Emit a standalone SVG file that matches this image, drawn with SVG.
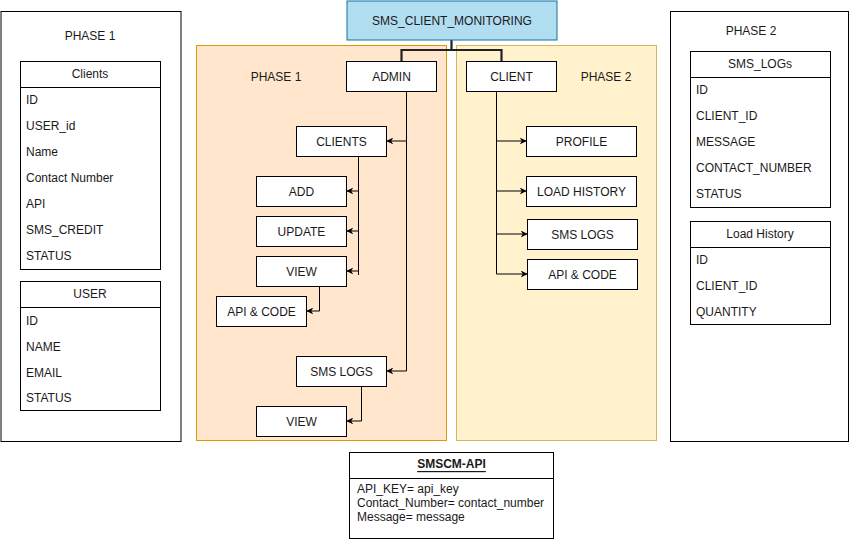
<svg xmlns="http://www.w3.org/2000/svg" width="851" height="542" viewBox="0 0 851 542">
<defs>
<marker id="arr" viewBox="0 0 10 10" refX="9" refY="5" markerWidth="7" markerHeight="7" markerUnits="userSpaceOnUse" orient="auto">
<path d="M0,0 L10,5 L0,10 L3,5 z" fill="#000"/>
</marker>
<style>
text{font-family:"Liberation Sans",Arial,sans-serif;font-size:12px;fill:#1a1a1a}
.c{text-anchor:middle;dominant-baseline:central}
.l{dominant-baseline:central}
.box{fill:#fff;stroke:#000;stroke-width:1}
.ln{fill:none;stroke:#000;stroke-width:1}
.ar{fill:none;stroke:#000;stroke-width:1;marker-end:url(#arr)}
</style>
</defs>
<rect width="851" height="542" fill="#fff"/>

<g id="phase1-db">
<rect class="box" x="1" y="11.5" width="180" height="430"/>
<text class="c" x="90" y="36">PHASE 1</text>
<g id="clients-table">
<rect class="box" x="20.5" y="61.5" width="140" height="208"/>
<line class="ln" x1="20.5" y1="87.5" x2="160.5" y2="87.5"/>
<text class="c" x="90" y="74">Clients</text>
<text class="l" x="26" y="100">ID</text>
<text class="l" x="26" y="126">USER_id</text>
<text class="l" x="26" y="152">Name</text>
<text class="l" x="26" y="178">Contact Number</text>
<text class="l" x="26" y="204">API</text>
<text class="l" x="26" y="230">SMS_CREDIT</text>
<text class="l" x="26" y="256">STATUS</text>
</g>
<g id="user-table">
<rect class="box" x="20.5" y="281.5" width="140" height="129"/>
<line class="ln" x1="20.5" y1="307.5" x2="160.5" y2="307.5"/>
<text class="c" x="90" y="294">USER</text>
<text class="l" x="26" y="321">ID</text>
<text class="l" x="26" y="347">NAME</text>
<text class="l" x="26" y="373">EMAIL</text>
<text class="l" x="26" y="398">STATUS</text>
</g>
</g>

<g id="phase2-db">
<rect class="box" x="670.5" y="11.5" width="178" height="430"/>
<text class="c" x="751" y="31">PHASE 2</text>
<g id="smslogs-table">
<rect class="box" x="690.5" y="51.5" width="140" height="156"/>
<line class="ln" x1="690.5" y1="77.5" x2="830.5" y2="77.5"/>
<text class="c" x="760" y="64">SMS_LOGs</text>
<text class="l" x="696" y="90">ID</text>
<text class="l" x="696" y="116">CLIENT_ID</text>
<text class="l" x="696" y="142">MESSAGE</text>
<text class="l" x="696" y="168">CONTACT_NUMBER</text>
<text class="l" x="696" y="194">STATUS</text>
</g>
<g id="loadhistory-table">
<rect class="box" x="690.5" y="221.5" width="140" height="103"/>
<line class="ln" x1="690.5" y1="247.5" x2="830.5" y2="247.5"/>
<text class="c" x="760" y="234">Load History</text>
<text class="l" x="696" y="260">ID</text>
<text class="l" x="696" y="286">CLIENT_ID</text>
<text class="l" x="696" y="312">QUANTITY</text>
</g>
</g>

<g id="phase1-container">
<rect x="196.5" y="45.5" width="250" height="395" fill="#ffe6cc" stroke="#d79b00"/>
<text class="c" x="276" y="77">PHASE 1</text>
</g>
<g id="phase2-container">
<rect x="456.5" y="45.5" width="200" height="395" fill="#fff2cc" stroke="#d6b656"/>
<text class="c" x="606" y="77">PHASE 2</text>
</g>

<g id="connectors">
<path d="M451.5,40 V50 M401.5,61 V50 H501.5 V61" fill="none" stroke="#222" stroke-width="2.2"/>
<path class="ln" d="M406.5,91 V371"/>
<path class="ar" d="M406.5,141 H387"/>
<path class="ar" d="M406.5,371 H387"/>
<path class="ln" d="M358.5,156 V275"/>
<path class="ar" d="M358.5,191 H347"/>
<path class="ar" d="M358.5,231 H347"/>
<path class="ar" d="M358.5,271 H347"/>
<path class="ar" d="M319.5,286 V311 H307"/>
<path class="ar" d="M361.5,386 V421 H347"/>
<path class="ln" d="M496.5,91 V274"/>
<path class="ar" d="M496.5,141 H526"/>
<path class="ar" d="M496.5,191 H526"/>
<path class="ar" d="M496.5,234 H527"/>
<path class="ar" d="M496.5,274 H527"/>
</g>

<g id="root">
<rect x="347" y="1" width="210" height="39" fill="#b1ddf0" stroke="#10739e"/>
<text class="c" x="452" y="21">SMS_CLIENT_MONITORING</text>
</g>
<g id="admin"><rect class="box" x="346.5" y="61.5" width="90" height="30"/><text class="c" x="391.5" y="76.5">ADMIN</text></g>
<g id="client"><rect class="box" x="466.5" y="61.5" width="90" height="30"/><text class="c" x="511.5" y="76.5">CLIENT</text></g>
<g id="clients"><rect class="box" x="296.5" y="126.5" width="90" height="30"/><text class="c" x="341.5" y="141.5">CLIENTS</text></g>
<g id="add"><rect class="box" x="256.5" y="176.5" width="90" height="30"/><text class="c" x="301.5" y="191.5">ADD</text></g>
<g id="update"><rect class="box" x="256.5" y="216.5" width="90" height="30"/><text class="c" x="301.5" y="231.5">UPDATE</text></g>
<g id="view"><rect class="box" x="256.5" y="256.5" width="90" height="30"/><text class="c" x="301.5" y="271.5">VIEW</text></g>
<g id="apicode1"><rect class="box" x="216.5" y="296.5" width="90" height="30"/><text class="c" x="261.5" y="311.5">API &amp; CODE</text></g>
<g id="smslogs1"><rect class="box" x="296.5" y="356.5" width="90" height="30"/><text class="c" x="341.5" y="371.5">SMS LOGS</text></g>
<g id="view2"><rect class="box" x="256.5" y="406.5" width="90" height="30"/><text class="c" x="301.5" y="421.5">VIEW</text></g>
<g id="profile"><rect class="box" x="526.5" y="126.5" width="110" height="30"/><text class="c" x="581.5" y="141.5">PROFILE</text></g>
<g id="loadhistory"><rect class="box" x="526.5" y="176.5" width="110" height="30"/><text class="c" x="581.5" y="191.5">LOAD HISTORY</text></g>
<g id="smslogs2"><rect class="box" x="527.5" y="219.5" width="110" height="30"/><text class="c" x="582.5" y="234.5">SMS LOGS</text></g>
<g id="apicode2"><rect class="box" x="527.5" y="259.5" width="110" height="30"/><text class="c" x="582.5" y="274.5">API &amp; CODE</text></g>

<g id="smscm-api">
<rect class="box" x="349.5" y="452.5" width="204" height="86"/>
<line class="ln" x1="349.5" y1="478.5" x2="553.5" y2="478.5"/>
<text class="c" x="451.5" y="464" style="font-weight:bold;text-decoration:underline">SMSCM-API</text>
<text class="l" x="357" y="489">API_KEY= api_key</text>
<text class="l" x="357" y="503">Contact_Number= contact_number</text>
<text class="l" x="357" y="517">Message= message</text>
</g>
</svg>
